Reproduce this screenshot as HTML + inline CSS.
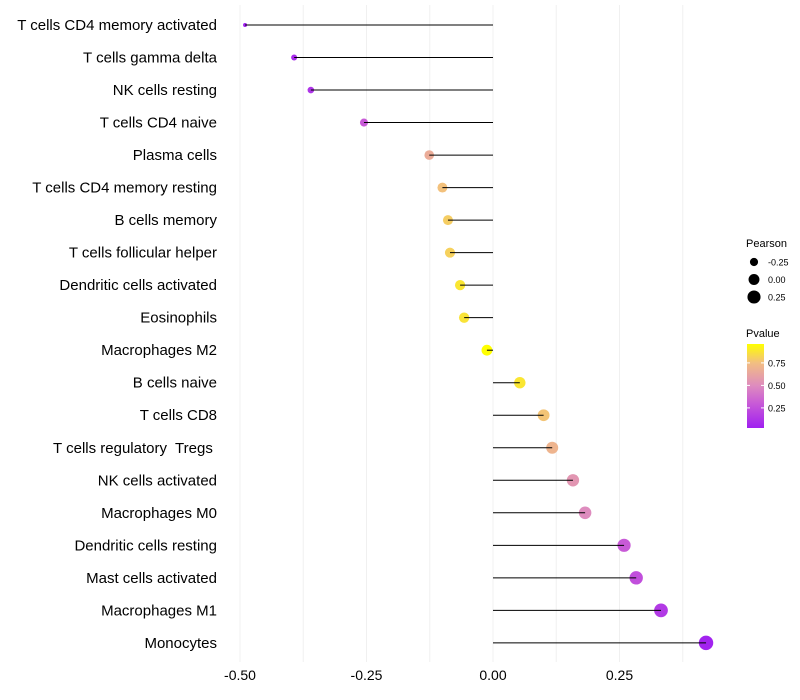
<!DOCTYPE html>
<html><head><meta charset="utf-8"><style>
body{margin:0;background:#fff;}
svg{display:block;font-family:"Liberation Sans",sans-serif;}
</style></head><body>
<svg id="chart" width="800" height="700"></svg>
<script>
const categories=["T cells CD4 memory activated","T cells gamma delta","NK cells resting","T cells CD4 naive","Plasma cells","T cells CD4 memory resting","B cells memory","T cells follicular helper","Dendritic cells activated","Eosinophils","Macrophages M2","B cells naive","T cells CD8","T cells regulatory  Tregs ","NK cells activated","Macrophages M0","Dendritic cells resting","Mast cells activated","Macrophages M1","Monocytes"];
const pearson=[-0.49,-0.393,-0.36,-0.255,-0.126,-0.10,-0.089,-0.085,-0.065,-0.057,-0.012,0.053,0.10,0.117,0.158,0.182,0.259,0.283,0.332,0.421];
const pvalue=[0.03,0.08,0.12,0.3,0.66,0.76,0.8,0.81,0.88,0.87,0.96,0.88,0.77,0.7,0.55,0.5,0.3,0.25,0.15,0.04];
const xTicks=[-0.5,-0.25,0,0.25];
const xTickLabels=["-0.50","-0.25","0.00","0.25"];
const sizeLegend=[-0.25,0,0.25];
const colorTicks=[0.25,0.5,0.75];

const NS="http://www.w3.org/2000/svg";
const svg=document.getElementById('chart');
function el(t,a,p){const e=document.createElementNS(NS,t);for(const k in a)e.setAttribute(k,a[k]);(p||svg).appendChild(e);return e;}
const xS=v=>493+v*506;
const yS=i=>25+i*32.52;
const rS=v=>Math.sqrt(Math.max(1,29.8+52.7*v));
const stops=[[0.028,[160,32,240]],[0.3,[200,90,215]],[0.5,[222,140,190]],[0.75,[242,190,130]],[0.96,[255,255,0]]];
function col(p){p=Math.max(stops[0][0],Math.min(stops[4][0],p));for(let i=0;i<4;i++){const a=stops[i],b=stops[i+1];if(p<=b[0]){const t=(p-a[0])/(b[0]-a[0]);return 'rgb('+a[1].map((c,j)=>Math.round(c+(b[1][j]-c)*t)).join(',')+')';}}}

// grid
for(let v=-0.5;v<=0.4;v+=0.125){const g=el('line',{x1:xS(v),x2:xS(v),y1:5,y2:662,stroke:'#f0f0f0','stroke-width':1});

}
xTicks.forEach((v,i)=>{const t=el('text',{x:xS(v),y:680,'text-anchor':'middle','font-size':14,fill:'#000'});t.textContent=xTickLabels[i];

});
categories.forEach((c,i)=>{
const y=yS(i);
const t=el('text',{x:217,y:y+5,'text-anchor':'end','font-size':15,fill:'#000','xml:space':'preserve',style:'white-space:pre'});t.textContent=c;


const pt=el('circle',{cx:xS(pearson[i]),cy:y,r:rS(pearson[i]),fill:col(pvalue[i])});


const ln=el('line',{x1:xS(0),x2:xS(pearson[i]),y1:y,y2:y,stroke:'#000','stroke-width':1});


});
// size legend
const lt=el('text',{x:746,y:247,'font-size':11});lt.textContent='Pearson';


sizeLegend.forEach((v,i)=>{const y=262+i*17.5;
const c=el('circle',{cx:754,cy:y,r:rS(v),fill:'#000'});


const t=el('text',{x:768,y:y+3.5,'font-size':9});t.textContent=v===0?'0.00':v.toFixed(2);

});
// color legend
const ct=el('text',{x:746,y:337,'font-size':11});ct.textContent='Pvalue';


const defs=el('defs',{});const lg=el('linearGradient',{id:'pg',x1:0,y1:1,x2:0,y2:0},defs);
stops.forEach(s=>el('stop',{offset:((s[0]-0.028)/(0.96-0.028)),'stop-color':'rgb('+s[1].join(',')+')'},lg));
const bar=el('rect',{x:747,y:344,width:17,height:84,fill:'url(#pg)'});


colorTicks.forEach(v=>{const y=344+(0.96-v)*90;
el('line',{x1:747,x2:750,y1:y,y2:y,stroke:'#fff'});el('line',{x1:761,x2:764,y1:y,y2:y,stroke:'#fff'});
const t=el('text',{x:768,y:y+3.5,'font-size':9});t.textContent=v.toFixed(2);

});
</script>
</body></html>
